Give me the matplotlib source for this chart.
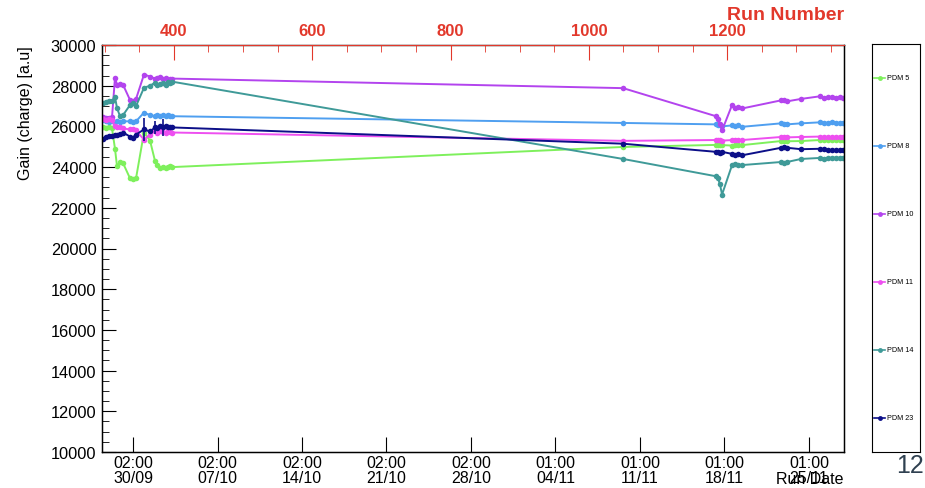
import numpy as np
import pandas as pd
import matplotlib
matplotlib.use("Agg")
import matplotlib.pyplot as plt
import matplotlib.dates as mdates
from matplotlib.ticker import MultipleLocator, FixedLocator

plt.rcParams['font.family'] = ['Liberation Sans', 'DejaVu Sans']

# run times (UTC)
run_times = pd.to_datetime([
    "2018-09-27 12:20", "2018-09-27 18:20", "2018-09-28 00:15", "2018-09-28 06:15",
    "2018-09-28 12:10", "2018-09-28 16:10", "2018-09-28 22:10", "2018-09-29 04:05",
    "2018-09-29 18:00", "2018-09-30 00:00", "2018-09-30 06:00", "2018-09-30 21:50",
    "2018-10-01 09:50", "2018-10-01 19:45", "2018-10-01 23:45", "2018-10-02 05:40",
    "2018-10-02 11:40", "2018-10-02 17:35", "2018-10-02 21:35", "2018-10-03 01:35",
    "2018-10-03 05:30", "2018-11-09 14:25", "2018-11-17 07:10", "2018-11-17 11:00",
    "2018-11-17 15:05", "2018-11-17 19:10", "2018-11-18 15:05", "2018-11-18 21:05",
    "2018-11-19 02:55", "2018-11-19 11:00", "2018-11-22 16:35", "2018-11-22 22:35",
    "2018-11-23 04:20", "2018-11-24 08:10", "2018-11-25 22:05", "2018-11-26 06:00",
    "2018-11-26 13:55", "2018-11-26 21:50", "2018-11-27 05:45", "2018-11-27 13:40",
    "2018-11-27 19:40",
])

gain_pdm5 = [25950, 25900, 25950, 25900, 24900, 24050, 24250, 24200, 23450, 23400,
             23450, 25700, 25300, 24300, 24100, 23950, 24000, 23950, 24000, 24050,
             24000, 24990, 25090, 25080, 25090, 25080, 25060, 25080, 25070, 25080,
             25280, 25260, 25270, 25280, 25330, 25320, 25310, 25330, 25320, 25330, 25320]
gain_pdm8 = [26300, 26250, 26200, 26250, 26200, 26250, 26200, 26250, 26250, 26200,
             26250, 26680, 26550, 26500, 26550, 26500, 26550, 26500, 26550, 26520,
             26500, 26170, 26100, 26080, 26050, 26000, 26050, 26000, 26050, 25980,
             26150, 26120, 26100, 26150, 26200, 26180, 26170, 26200, 26180, 26170, 26170]
gain_pdm10 = [26450, 26400, 26420, 26450, 28400, 28050, 28100, 28050, 27300, 27250,
              27350, 28550, 28450, 28350, 28400, 28450, 28350, 28400, 28300, 28350,
              28350, 27880, 26500, 26350, 26100, 25800, 27050, 26900, 26950, 26880,
              27280, 27300, 27230, 27350, 27480, 27420, 27430, 27450, 27420, 27430, 27420]
gain_pdm11 = [26350, 26300, 26350, 26300, 26000, 25950, 25950, 25900, 25850, 25870,
              25800, 25350, 25600, 25750, 25700, 25750, 25720, 25700, 25750, 25720,
              25700, 25290, 25330, 25320, 25330, 25300, 25330, 25320, 25340, 25330,
              25480, 25470, 25460, 25480, 25500, 25480, 25470, 25480, 25490, 25480, 25480]
gain_pdm14 = [27150, 27200, 27250, 27250, 27450, 26900, 26500, 26550, 27050, 27150,
              27000, 27900, 28000, 28150, 28050, 28100, 28150, 28050, 28200, 28150,
              28200, 24400, 23550, 23450, 23150, 22650, 24100, 24150, 24100, 24100,
              24250, 24200, 24250, 24400, 24450, 24420, 24450, 24450, 24460, 24450, 24450]
gain_pdm23 = [25400, 25500, 25550, 25550, 25600, 25600, 25650, 25700, 25500, 25450,
              25600, 25850, 25750, 25950, 25900, 26000, 25950, 26000, 25950, 25980,
              25950, 25150, 24750, 24720, 24700, 24750, 24650, 24600, 24650, 24580,
              24950, 24980, 24950, 24880, 24900, 24880, 24820, 24840, 24830, 24840, 24830]
err_pdm23 = [0, 0, 0, 0, 0, 0, 0, 0, 0, 0,
             0, 550, 0, 300, 0, 0, 400, 0, 0, 0,
             0, 0, 0, 0, 0, 0, 0, 0, 0, 0,
             0, 0, 0, 0, 0, 0, 0, 0, 0, 0, 0]

labels = ["PDM 5", "PDM 8", "PDM 10", "PDM 11", "PDM 14", "PDM 23"]
colors = ["#7ef05c", "#4f9ff0", "#b344ee", "#ee4ff0", "#3f9a98", "#0c0f88"]
series = [gain_pdm5, gain_pdm8, gain_pdm10, gain_pdm11, gain_pdm14, gain_pdm23]

week_ticks = pd.date_range("2018-09-30", periods=9, freq="7D")
week_labels = ["02:00\n30/09", "02:00\n07/10", "02:00\n14/10", "02:00\n21/10",
               "02:00\n28/10", "01:00\n04/11", "01:00\n11/11", "01:00\n18/11",
               "01:00\n25/11"]
run_ticks = [400, 600, 800, 1000, 1200]

fig = plt.figure(figsize=(9.25, 4.89), dpi=100)
ax = fig.add_axes([102/925, 36/489, 742/925, 407/489])

for vals, col in zip(series, colors):
    ax.plot(run_times, vals, '-o', color=col, lw=1.4, ms=4, mew=0)
ax.errorbar(run_times, gain_pdm23, yerr=err_pdm23, fmt='none', ecolor=colors[5], elinewidth=1.2)

ax.set_xlim(pd.Timestamp("2018-09-27 10:20"), pd.Timestamp("2018-11-27 21:40"))
ax.set_ylim(10000, 30000)
ax.yaxis.set_major_locator(MultipleLocator(2000))
ax.yaxis.set_minor_locator(MultipleLocator(500))
ax.xaxis.set_major_locator(FixedLocator(mdates.date2num(week_ticks)))
ax.set_xticklabels(week_labels, fontsize=11.5, linespacing=1.05)
ax.xaxis.set_minor_locator(FixedLocator([]))
ax.tick_params(axis='y', which='major', direction='in', length=10, labelsize=11.8, pad=4)
ax.tick_params(axis='y', which='minor', direction='in', length=5)
ax.tick_params(axis='x', which='major', direction='in', length=11, labelsize=11.5, pad=2)
ax.tick_params(top=False, right=False)
ax.set_ylabel("Gain (charge) [a.u]", fontsize=11.5, loc='top', labelpad=13)
ax.set_xlabel("Run Date", fontsize=11.5, loc='right', labelpad=-10)
for sp in ax.spines.values():
    sp.set_linewidth(1.0)

# run number axis on top
ax2 = ax.twiny()
ax2.set_xlim(296, 1369)
ax2.xaxis.set_major_locator(FixedLocator(run_ticks))
ax2.xaxis.set_minor_locator(MultipleLocator(50))
red = "#e2382b"
ax2.tick_params(axis='x', which='major', direction='in', length=11, colors=red,
                labelsize=12, pad=5)
ax2.tick_params(axis='x', which='minor', direction='in', length=5, colors=red)
for t in ax2.get_xticklabels():
    t.set_fontweight('bold')
ax2.spines['top'].set_color(red)
ax2.set_xlabel("Run Number", color=red, fontsize=14, fontweight='bold', loc='right',
               labelpad=3)

# legend box
lax = fig.add_axes([872/925, 36/489, 48/925, 408/489])
lax.set_xlim(0, 1)
lax.set_ylim(0, 1)
lax.set_xticks([])
lax.set_yticks([])
for i, (lab, col) in enumerate(zip(labels, colors)):
    yy = 1 - (i + 0.5) / len(labels)
    lax.plot([0.05, 0.27], [yy, yy], color=col, lw=1.2)
    lax.plot([0.16], [yy], 'o', color=col, ms=3.5, mew=0)
    lax.text(0.31, yy, lab, fontsize=5.2, va='center', ha='left')

fig.text(0.999, 0.022, "12", fontsize=18, color="#2f4050", ha='right', va='bottom')

fig.savefig("out.png", dpi=100)
